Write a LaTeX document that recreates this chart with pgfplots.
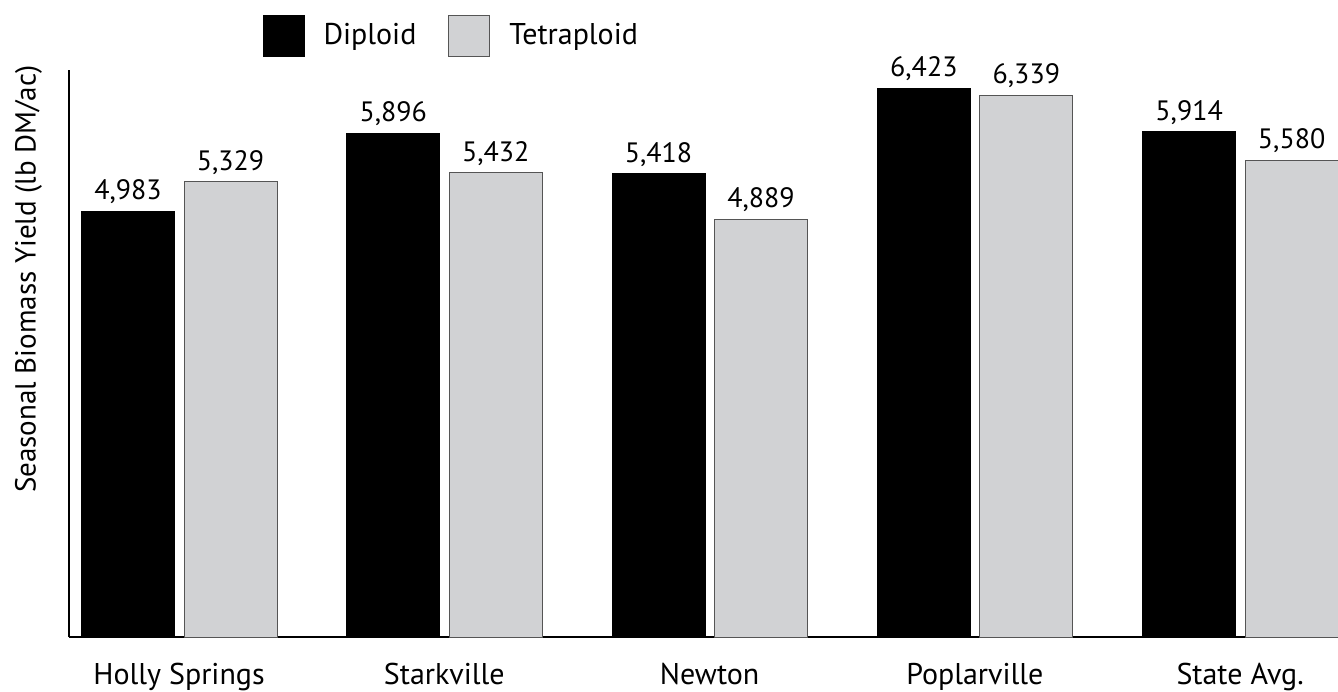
\documentclass[border=0pt]{standalone}
\usepackage{pgfplots}
\pgfplotsset{compat=1.18}
\usepackage{fontspec}
\setmainfont{PT Sans}
\definecolor{tetra}{HTML}{D1D2D4}
\definecolor{tetraedge}{HTML}{555555}
\begin{document}
\begin{tikzpicture}
\begin{axis}[
  name=ax,
  scale only axis, width=634.5pt, height=283.5pt,
  xmin=-0.4147, xmax=4.369, ymin=0, ymax=6634,
  clip=false,
  axis x line*=bottom, axis y line*=left,
  axis line style={line width=1pt, -},
  xtick={0,1,2,3,4},
  xticklabels={Holly Springs, Starkville, Newton, Poplarville, State Avg.},
  major tick length=0pt, ytick=\empty,
  xticklabel style={font=\fontsize{15}{18}\selectfont, anchor=base, yshift=-23.5pt},
  ylabel={Seasonal Biomass Yield (lb DM/ac)},
  ylabel style={font=\fontsize{14.5}{16}\selectfont, at={(axis description cs:-0.0319,0.631)}, anchor=center},
  ybar, bar width=46.5pt,
  nodes near coords={\pgfmathprintnumber[1000 sep={,}, assume math mode=true]{\pgfplotspointmeta}},
  nodes near coords style={font=\fontsize{14}{16}\selectfont, color=black},
  legend style={at={(axis description cs:0.302,1.0608)}, anchor=center, draw=none, fill=none,
    font=\fontsize{15}{17}\selectfont,
    /tikz/every even column/.append style={column sep=14pt}},
  legend columns=2,
  legend image code/.code={\draw[#1] (0pt,-10.25pt) rectangle (20.5pt,10.25pt); \path (28pt,0pt);},
]
\addplot[fill=black, draw=black, line width=0.5pt, bar shift=-25.5pt]
  coordinates {(0,4983) (1,5896) (2,5418) (3,6423) (4,5914)};
\addplot[fill=tetra, draw=tetraedge, line width=0.5pt, bar shift=25.75pt]
  coordinates {(0,5329) (1,5432) (2,4889) (3,6339) (4,5580)};
\legend{Diploid, Tetraploid}
\end{axis}
\pgfresetboundingbox
\path[use as bounding box] (ax.south west) ++(-34.5pt,-27pt) rectangle ++(669pt,345.5pt);
\end{tikzpicture}
\end{document}
